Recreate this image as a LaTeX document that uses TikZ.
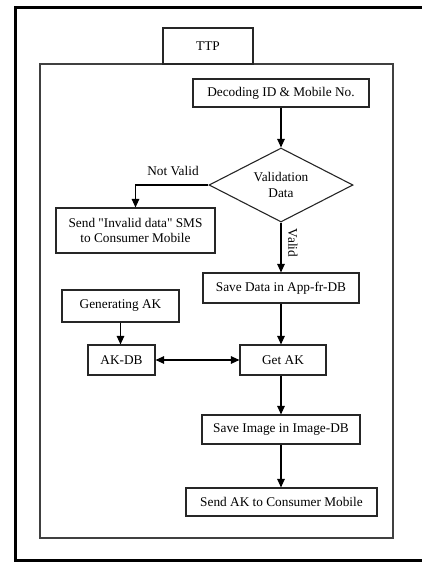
\documentclass[tikz,border=0pt]{standalone}
\usepackage{fontspec}
\setmainfont{Liberation Serif}
% plain family without TeX quote mapping, so " stays a straight quote
\newfontfamily\boxfont{Liberation Serif}
\usetikzlibrary{arrows.meta,shapes.geometric}
\begin{document}
\begin{tikzpicture}[x=1pt,y=-1pt,
  txt/.style={font=\boxfont\fontsize{13.3}{15.5}\selectfont},
  box/.style={txt,draw=black!85,line width=1.1pt,rectangle,inner sep=0pt,align=center},
  flow/.style={draw=black,line width=1.1pt,-{Triangle[length=8.5pt,width=7.5pt]}},
  lbl/.style={txt,inner sep=0pt}]
  \useasboundingbox (0,0) rectangle (422,563);
  % outer frame (open on the right)
  \draw[line width=3pt] (440,7) -- (15.5,7) -- (15.5,560) -- (440,560);
  % TTP container
  \draw[draw=black!75,line width=1.1pt] (40,64) rectangle (393,538);
  \node[box,minimum width=90pt,minimum height=36pt] (ttp) at (208,46) {TTP};
  % flow steps
  \node[box,minimum width=176pt,minimum height=28pt] (dec) at (281,93) {Decoding ID \& Mobile No.};
  \node[txt,draw=black!85,line width=1.1pt,diamond,aspect=1.95,minimum width=144pt,minimum height=74pt,inner sep=0pt,align=center] (val) at (281,185) {Validation\\Data};
  \node[box,minimum width=159pt,minimum height=45pt] (inv) at (135.5,230.5) {Send "Invalid data" SMS\\to Consumer Mobile};
  \node[box,minimum width=156pt,minimum height=30pt] (save) at (281,288) {Save Data in App-fr-DB};
  \node[box,minimum width=117pt,minimum height=32pt] (gen) at (120.5,306) {Generating AK};
  \node[box,minimum width=67pt,minimum height=30pt] (akdb) at (121.5,360) {AK-DB};
  \node[box,minimum width=86pt,minimum height=30pt] (get) at (283,360) {Get AK};
  \node[box,minimum width=158pt,minimum height=29pt] (img) at (281,429.5) {Save Image in Image-DB};
  \node[box,minimum width=191pt,minimum height=28pt] (send) at (281.5,502) {Send AK to Consumer Mobile};
  % connectors
  \draw[flow] (dec.south) -- (val.north);
  \draw[flow] (val.west) -| (inv.north);
  \node[lbl] (nv) at (173,171) {Not Valid};
  \draw[flow] (val.south) -- (save.north -| val.south);
  \node[lbl,rotate=-90] (vl) at (293,243) {Valid};
  \draw[flow] (save.south) -- (get.north -| save.south);
  \draw[flow] (gen.south) -- (akdb.north -| gen.south);
  \draw[draw=black,line width=1.1pt,{Triangle[length=8.5pt,width=7.5pt]}-{Triangle[length=8.5pt,width=7.5pt]}] (akdb.east) -- (get.west);
  \draw[flow] (get.south -| img.north) -- (img.north);
  \draw[flow] (img.south) -- (send.north -| img.south);
\end{tikzpicture}
\end{document}
